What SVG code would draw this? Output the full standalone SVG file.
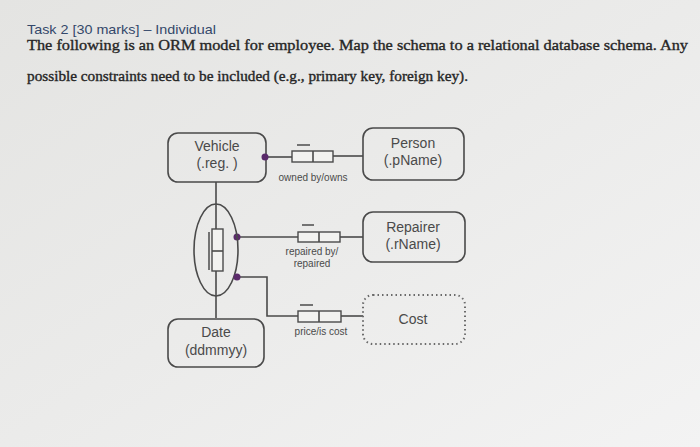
<svg xmlns="http://www.w3.org/2000/svg" width="700" height="447" viewBox="0 0 700 447">
<defs>
<linearGradient id="bg" x1="0" y1="0" x2="1" y2="1">
<stop offset="0" stop-color="#e4e4e2"/>
<stop offset="0.5" stop-color="#ebebea"/>
<stop offset="1" stop-color="#f3f3f3"/>
</linearGradient>
<style>
.box{fill:none;stroke:#4a4a4a;stroke-width:1.6}
.dot{fill:none;stroke:#6a6a6a;stroke-width:2;stroke-dasharray:1.5 3}
.ln{fill:none;stroke:#4a4a4a;stroke-width:1.6}
.role{fill:#f2f2f0;stroke:#4a4a4a;stroke-width:1.4}
.bar{stroke:#555;stroke-width:1.6}
.pd{fill:#5a2a6a}
.t{font-family:"Liberation Sans",Arial,sans-serif;fill:#4a4a4a;text-anchor:middle}
.nm{font-size:14px}
.lb{font-size:10px}
.para{font-family:"Liberation Serif","Times New Roman",serif;fill:#262626;stroke:#262626;stroke-width:0.35}
</style>
</defs>
<rect width="700" height="447" fill="url(#bg)"/>
<text x="27" y="33.5" font-family="'Liberation Sans',Arial,sans-serif" font-size="13.5" fill="#34486a" textLength="189" lengthAdjust="spacingAndGlyphs">Task 2 [30 marks] – Individual</text>
<text class="para" x="27" y="50" font-size="15" textLength="661" lengthAdjust="spacingAndGlyphs">The following is an ORM model for employee. Map the schema to a relational database schema. Any</text>
<text class="para" x="27" y="81" font-size="14" textLength="441" lengthAdjust="spacingAndGlyphs">possible constraints need to be included (e.g., primary key, foreign key).</text>

<g id="connectors">
<line class="ln" x1="265" y1="157" x2="292" y2="157"/>
<line class="ln" x1="333" y1="156" x2="363" y2="156"/>
<line class="ln" x1="216" y1="182" x2="216" y2="318"/>
<line class="ln" x1="237" y1="237" x2="298" y2="237"/>
<line class="ln" x1="340" y1="237" x2="363" y2="237"/>
<polyline class="ln" points="237,277 267,277 267,316 298,316"/>
<line class="ln" x1="341" y1="316" x2="363" y2="316"/>
</g>

<g id="vehicle">
<rect class="box" x="168" y="133" width="98" height="49" rx="10"/>
<text class="t nm" x="217" y="151">Vehicle</text>
<text class="t nm" x="217" y="168">(.reg. )</text>
</g>
<g id="person">
<rect class="box" x="363" y="128" width="101" height="52" rx="10"/>
<text class="t nm" x="413" y="148">Person</text>
<text class="t nm" x="413" y="165">(.pName)</text>
</g>
<g id="repairer">
<rect class="box" x="363" y="212" width="102" height="50" rx="10"/>
<text class="t nm" x="413" y="232">Repairer</text>
<text class="t nm" x="413" y="249">(.rName)</text>
</g>
<g id="cost">
<rect class="dot" x="363" y="295" width="102" height="49" rx="10"/>
<text class="t nm" x="413" y="324">Cost</text>
</g>
<g id="date">
<rect class="box" x="168" y="319" width="96" height="48" rx="10"/>
<text class="t nm" x="216" y="337">Date</text>
<text class="t nm" x="216" y="355">(ddmmyy)</text>
</g>

<g id="owned-by">
<rect class="role" x="292" y="151" width="41" height="11"/>
<line class="ln" x1="313" y1="151" x2="313" y2="162"/>
<line class="bar" x1="297" y1="145" x2="310" y2="145"/>
<circle class="pd" cx="265" cy="157" r="3.5"/>
<text class="t lb" x="313" y="181">owned by/owns</text>
</g>
<g id="repaired-by">
<rect class="role" x="298" y="232" width="42" height="10"/>
<line class="ln" x1="319" y1="232" x2="319" y2="242"/>
<line class="bar" x1="302" y1="225" x2="314" y2="225"/>
<circle class="pd" cx="237" cy="237" r="3.5"/>
<text class="t lb" x="312" y="255">repaired by/</text>
<text class="t lb" x="312" y="267">repaired</text>
</g>
<g id="price">
<rect class="role" x="298" y="311" width="43" height="11"/>
<line class="ln" x1="319" y1="311" x2="319" y2="322"/>
<line class="bar" x1="300" y1="305" x2="313" y2="305"/>
<text class="t lb" x="321" y="335">price/is cost</text>
</g>
<g id="objectified">
<ellipse class="ln" cx="216" cy="250" rx="22" ry="46"/>
<rect class="role" x="212" y="229" width="11" height="42"/>
<line class="ln" x1="212" y1="251" x2="223" y2="251"/>
<line class="bar" stroke="#5a3a6a" x1="209" y1="232" x2="209" y2="270"/>
<circle class="pd" cx="237" cy="277" r="3.5"/>
</g>
</svg>
